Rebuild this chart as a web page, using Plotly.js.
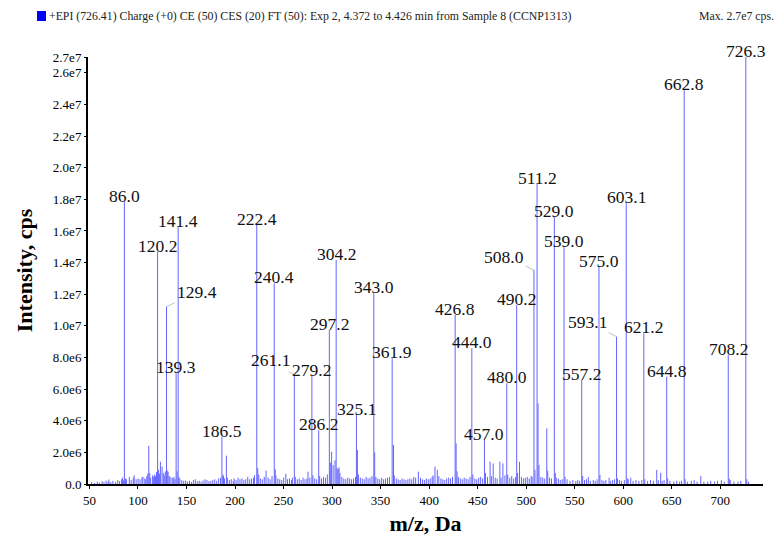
<!DOCTYPE html>
<html>
<head>
<meta charset="utf-8">
<script src="https://cdn.plot.ly/plotly-3.0.1.min.js"></script>
<style>html,body{margin:0;padding:0;background:#fff;}#chart{width:779px;height:536px;}</style>
</head>
<body>
<div id="chart"></div>
<script>
// Labelled fragment ions (m/z) and intensities (cps)
const peakMz = [86.0,120.2,129.4,139.3,141.4,186.5,222.4,240.4,261.1,279.2,286.2,297.2,304.2,325.1,343.0,361.9,426.8,444.0,457.0,480.0,490.2,508.0,511.2,529.0,539.0,557.2,575.0,593.1,603.1,621.2,644.8,662.8,708.2,726.3];
const peakInt = [1.786e7,1.469e7,1.121e7,0.700e7,1.627e7,0.299e7,1.638e7,1.269e7,0.689e7,0.683e7,0.340e7,0.974e7,1.417e7,0.436e7,1.206e7,0.795e7,1.069e7,0.858e7,0.278e7,0.637e7,1.132e7,1.354e7,1.898e7,1.691e7,1.497e7,0.658e7,1.374e7,0.932e7,1.775e7,0.953e7,0.679e7,2.492e7,0.816e7,2.700e7];

// Unlabelled minor ions (m/z) and intensities (millions of cps)
const minorMz = [52.1,55.3,58.0,60.2,63.1,65.0,67.2,69.1,70.1,72.0,74.1,77.0,79.1,81.0,83.1,84.1,85.1,87.0,88.1,91.1,93.0,95.1,96.1,98.1,100.1,
102.1,104.1,105.1,107.0,108.1,109.1,110.1,111.1,112.1,113.1,115.1,116.1,117.1,118.1,119.1,121.1,122.1,123.1,124.8,126.1,127.1,128.1,130.1,131.0,132.1,133.1,135.1,136.1,137.1,138.1,140.3,142.1,143.1,145.1,147.1,149.1,
151.1,153.1,155.1,157.1,159.1,161.1,163.1,165.1,167.1,169.1,171.1,173.1,175.1,177.1,179.1,181.1,183.1,185.1,187.5,188.1,189.1,191.1,192.1,194.1,196.1,198.1,199.1,
201.1,203.1,205.1,207.1,209.1,211.1,213.1,215.1,217.1,219.1,220.1,223.4,224.4,226.1,228.1,230.1,232.0,234.1,236.1,238.1,241.4,242.1,244.1,246.1,248.1,250.1,252.3,254.1,256.1,258.1,259.1,
262.1,264.1,266.1,268.1,270.1,272.1,274.1,275.2,277.1,280.2,282.1,284.1,287.2,289.1,291.1,293.1,295.1,298.2,299.5,301.1,303.0,305.2,306.2,307.2,308.1,310.1,312.1,314.1,316.1,318.1,
320.1,322.1,324.1,326.1,327.1,329.1,331.1,333.1,335.1,337.1,339.1,341.1,343.9,345.1,347.1,349.1,351.1,353.1,355.1,357.1,359.1,363.3,364.1,366.1,368.1,370.1,372.1,374.1,376.1,378.1,380.1,382.1,384.1,386.1,388.9,391.1,393.1,395.1,397.1,399.1,
401.1,403.1,404.1,406.0,408.4,410.0,412.1,414.1,416.1,418.1,420.1,422.1,424.1,427.8,428.8,430.1,432.1,434.1,436.1,438.1,440.1,442.1,445.0,447.1,449.1,451.1,453.1,455.1,458.0,460.1,462.8,464.1,466.0,468.1,
470.1,472.9,474.1,476.0,478.1,481.0,483.1,485.1,487.1,489.1,491.2,493.1,495.1,497.1,499.1,501.1,503.1,505.1,506.1,509.0,512.2,513.2,515.1,517.1,519.1,521.2,522.2,524.1,526.1,
530.0,531.0,533.1,535.1,537.1,540.0,542.1,545.1,548.1,551.1,553.1,555.1,558.2,560.1,562.1,564.0,566.1,569.1,571.1,573.1,576.0,578.1,580.1,582.1,585.4,587.1,589.1,591.1,594.1,596.1,598.1,
601.1,604.1,605.1,607.7,610.1,613.1,616.1,619.1,622.2,625.1,628.1,631.1,634.5,636.1,638.6,640.1,642.1,645.8,648.1,652.1,655.1,658.1,660.1,663.8,666.1,670.1,673.1,676.1,679.9,683.1,687.1,690.1,694.1,697.1,701.1,704.1,709.2,710.2,714.1,718.1,721.1,727.3,729.1];
const minorIntM = [0.12,0.08,0.15,0.10,0.18,0.12,0.22,0.15,0.28,0.12,0.20,0.14,0.25,0.18,0.30,0.40,0.22,0.35,0.30,0.45,0.25,0.40,0.55,0.30,0.35,
0.30,0.42,0.45,0.35,0.30,0.50,0.65,2.42,0.70,0.40,0.55,0.45,0.60,0.50,0.75,0.90,0.65,1.41,1.10,0.70,0.55,0.80,0.85,0.78,0.50,0.45,0.40,0.35,0.45,0.30,0.80,0.45,0.35,0.25,0.20,0.22,
0.15,0.20,0.12,0.25,0.30,0.18,0.20,0.15,0.22,0.30,0.25,0.18,0.20,0.25,0.30,0.20,0.35,0.40,0.60,0.50,0.35,1.79,0.40,0.25,0.30,0.20,0.35,
0.25,0.40,0.30,0.35,0.25,0.30,0.45,0.30,0.35,0.40,0.55,1.00,0.60,0.35,0.30,0.45,0.85,0.40,0.30,0.50,0.93,0.55,0.35,0.30,0.25,0.40,0.65,0.30,0.35,0.25,0.40,
0.45,0.30,0.35,0.25,0.40,0.30,0.35,0.78,0.40,0.55,0.35,0.30,0.50,0.35,0.45,0.40,0.60,1.35,2.04,1.20,1.50,1.00,0.95,1.05,0.70,0.45,0.35,0.30,0.40,0.35,
0.30,0.35,0.45,2.15,0.60,0.40,0.35,0.30,0.45,0.35,0.40,0.50,2.00,0.45,0.35,0.30,0.40,0.30,0.35,0.40,0.45,2.47,0.55,0.35,0.30,0.25,0.35,0.30,0.25,0.30,0.35,0.30,0.45,0.40,0.78,0.40,0.30,0.25,0.35,0.30,
0.35,0.45,0.55,1.10,0.90,0.50,0.35,0.30,0.25,0.35,0.40,0.35,0.45,2.57,0.80,0.45,0.35,0.30,0.40,0.35,0.30,0.45,0.60,0.35,0.30,0.40,0.45,0.35,0.70,0.45,1.41,0.50,1.30,0.40,
0.35,1.41,0.40,1.30,0.55,0.60,0.40,0.50,0.35,0.45,0.70,1.40,0.45,0.35,0.40,0.45,0.35,0.50,0.45,0.90,5.10,1.20,0.45,0.40,0.35,3.52,0.85,0.40,0.35,
0.70,0.40,0.35,0.25,0.30,0.45,0.30,0.20,0.25,0.20,0.25,0.20,0.50,0.25,0.30,0.45,0.20,0.25,0.20,0.30,0.57,0.25,0.20,0.25,0.40,0.20,0.25,0.30,0.35,0.25,0.20,
0.25,0.35,0.30,0.40,0.20,0.25,0.20,0.25,0.30,0.20,0.25,0.20,0.89,0.25,0.70,0.20,0.25,0.35,0.20,0.15,0.20,0.15,0.20,0.30,0.15,0.20,0.25,0.15,0.50,0.15,0.15,0.20,0.15,0.20,0.25,0.15,0.34,0.25,0.15,0.15,0.20,0.30,0.15];

// Axis ticks
const xTickVals = [50,100,150,200,250,300,350,400,450,500,550,600,650,700];
const xTickText = ["50","100","150","200","250","300","350","400","450","500","550","600","650","700"];
const yTickVals = [0,2e6,4e6,6e6,8e6,1e7,1.2e7,1.4e7,1.6e7,1.8e7,2.0e7,2.2e7,2.4e7,2.6e7,2.7e7];
const yTickText = ["0.0","2.0e6","4.0e6","6.0e6","8.0e6","1.0e7","1.2e7","1.4e7","1.6e7","1.8e7","2.0e7","2.2e7","2.4e7","2.6e7","2.7e7"];

const headerText = "+EPI (726.41) Charge (+0) CE (50) CES (20) FT (50): Exp 2, 4.372 to 4.426 min from Sample 8 (CCNP1313)";
const maxText = "Max. 2.7e7 cps.";

// Build stick spectrum
const sx = [], sy = [];
function addStick(m, v){ sx.push(m, m, null); sy.push(0, v, null); }
minorMz.forEach((m,i)=>addStick(m, minorIntM[i]*1e6));
peakMz.forEach((m,i)=>addStick(m, peakInt[i]));

const serif = "Liberation Serif";
// leader-line label offsets (pixels) by m/z
const leader = {"129.4":[30,-15], "261.1":[-24,-15], "508.0":[-30,-13], "593.1":[-29,-15]};

const annotations = peakMz.map((m,i)=>{
  const t = m.toFixed(1);
  const base = {x:m, y:peakInt[i], xref:'x', yref:'y', text:t,
    font:{family:serif, size:17.5, color:'#111'}};
  if (leader[t]) {
    return Object.assign(base, {showarrow:true, arrowhead:0, arrowwidth:0.6, arrowcolor:'#999',
      ax:leader[t][0], ay:leader[t][1], standoff:0, startstandoff:0});
  }
  return Object.assign(base, {showarrow:false, yanchor:'bottom', xanchor:'center', yshift:-6});
});

annotations.push({xref:'paper', yref:'paper', x:-0.0607, y:1.096, xanchor:'left', yanchor:'middle',
  text:headerText, showarrow:false, font:{family:serif, size:11.8, color:'#222'}});
annotations.push({xref:'paper', yref:'paper', x:1.019, y:1.096, xanchor:'right', yanchor:'middle',
  text:maxText, showarrow:false, font:{family:serif, size:11.8, color:'#222'}});

const trace = {x:sx, y:sy, type:'scatter', mode:'lines', line:{color:'rgb(100,100,255)', width:1},
  hoverinfo:'skip', connectgaps:false, showlegend:false};

const layout = {
  width:779, height:536,
  margin:{l:88, r:16, t:57, b:52},
  paper_bgcolor:'#fff', plot_bgcolor:'#fff',
  showlegend:false,
  xaxis:{range:[48.5,744], showgrid:false, zeroline:false, showline:true, linecolor:'#000', linewidth:2,
    ticks:'outside', ticklen:3, tickwidth:1, tickcolor:'#000', tickvals:xTickVals, ticktext:xTickText,
    tickfont:{family:serif, size:13, color:'#000'},
    title:{text:'<b>m/z, Da</b>', font:{family:serif, size:22, color:'#000'}, standoff:10}},
  yaxis:{range:[0,2.7e7], showgrid:false, zeroline:false, showline:true, linecolor:'#000', linewidth:2,
    ticks:'outside', ticklen:2, tickwidth:1, tickcolor:'#000', tickvals:yTickVals, ticktext:yTickText,
    tickfont:{family:serif, size:13, color:'#000'},
    title:{text:'<b>Intensity, cps</b>', font:{family:serif, size:22, color:'#000'}, standoff:14}},
  shapes:[{type:'rect', xref:'paper', yref:'paper', x0:-0.0756, x1:-0.0622, y0:1.0843, y1:1.1077,
    fillcolor:'#0000ff', line:{width:0}}],
  annotations:annotations
};

Plotly.newPlot('chart', [trace], layout, {staticPlot:true, displayModeBar:false});
</script>
</body>
</html>
